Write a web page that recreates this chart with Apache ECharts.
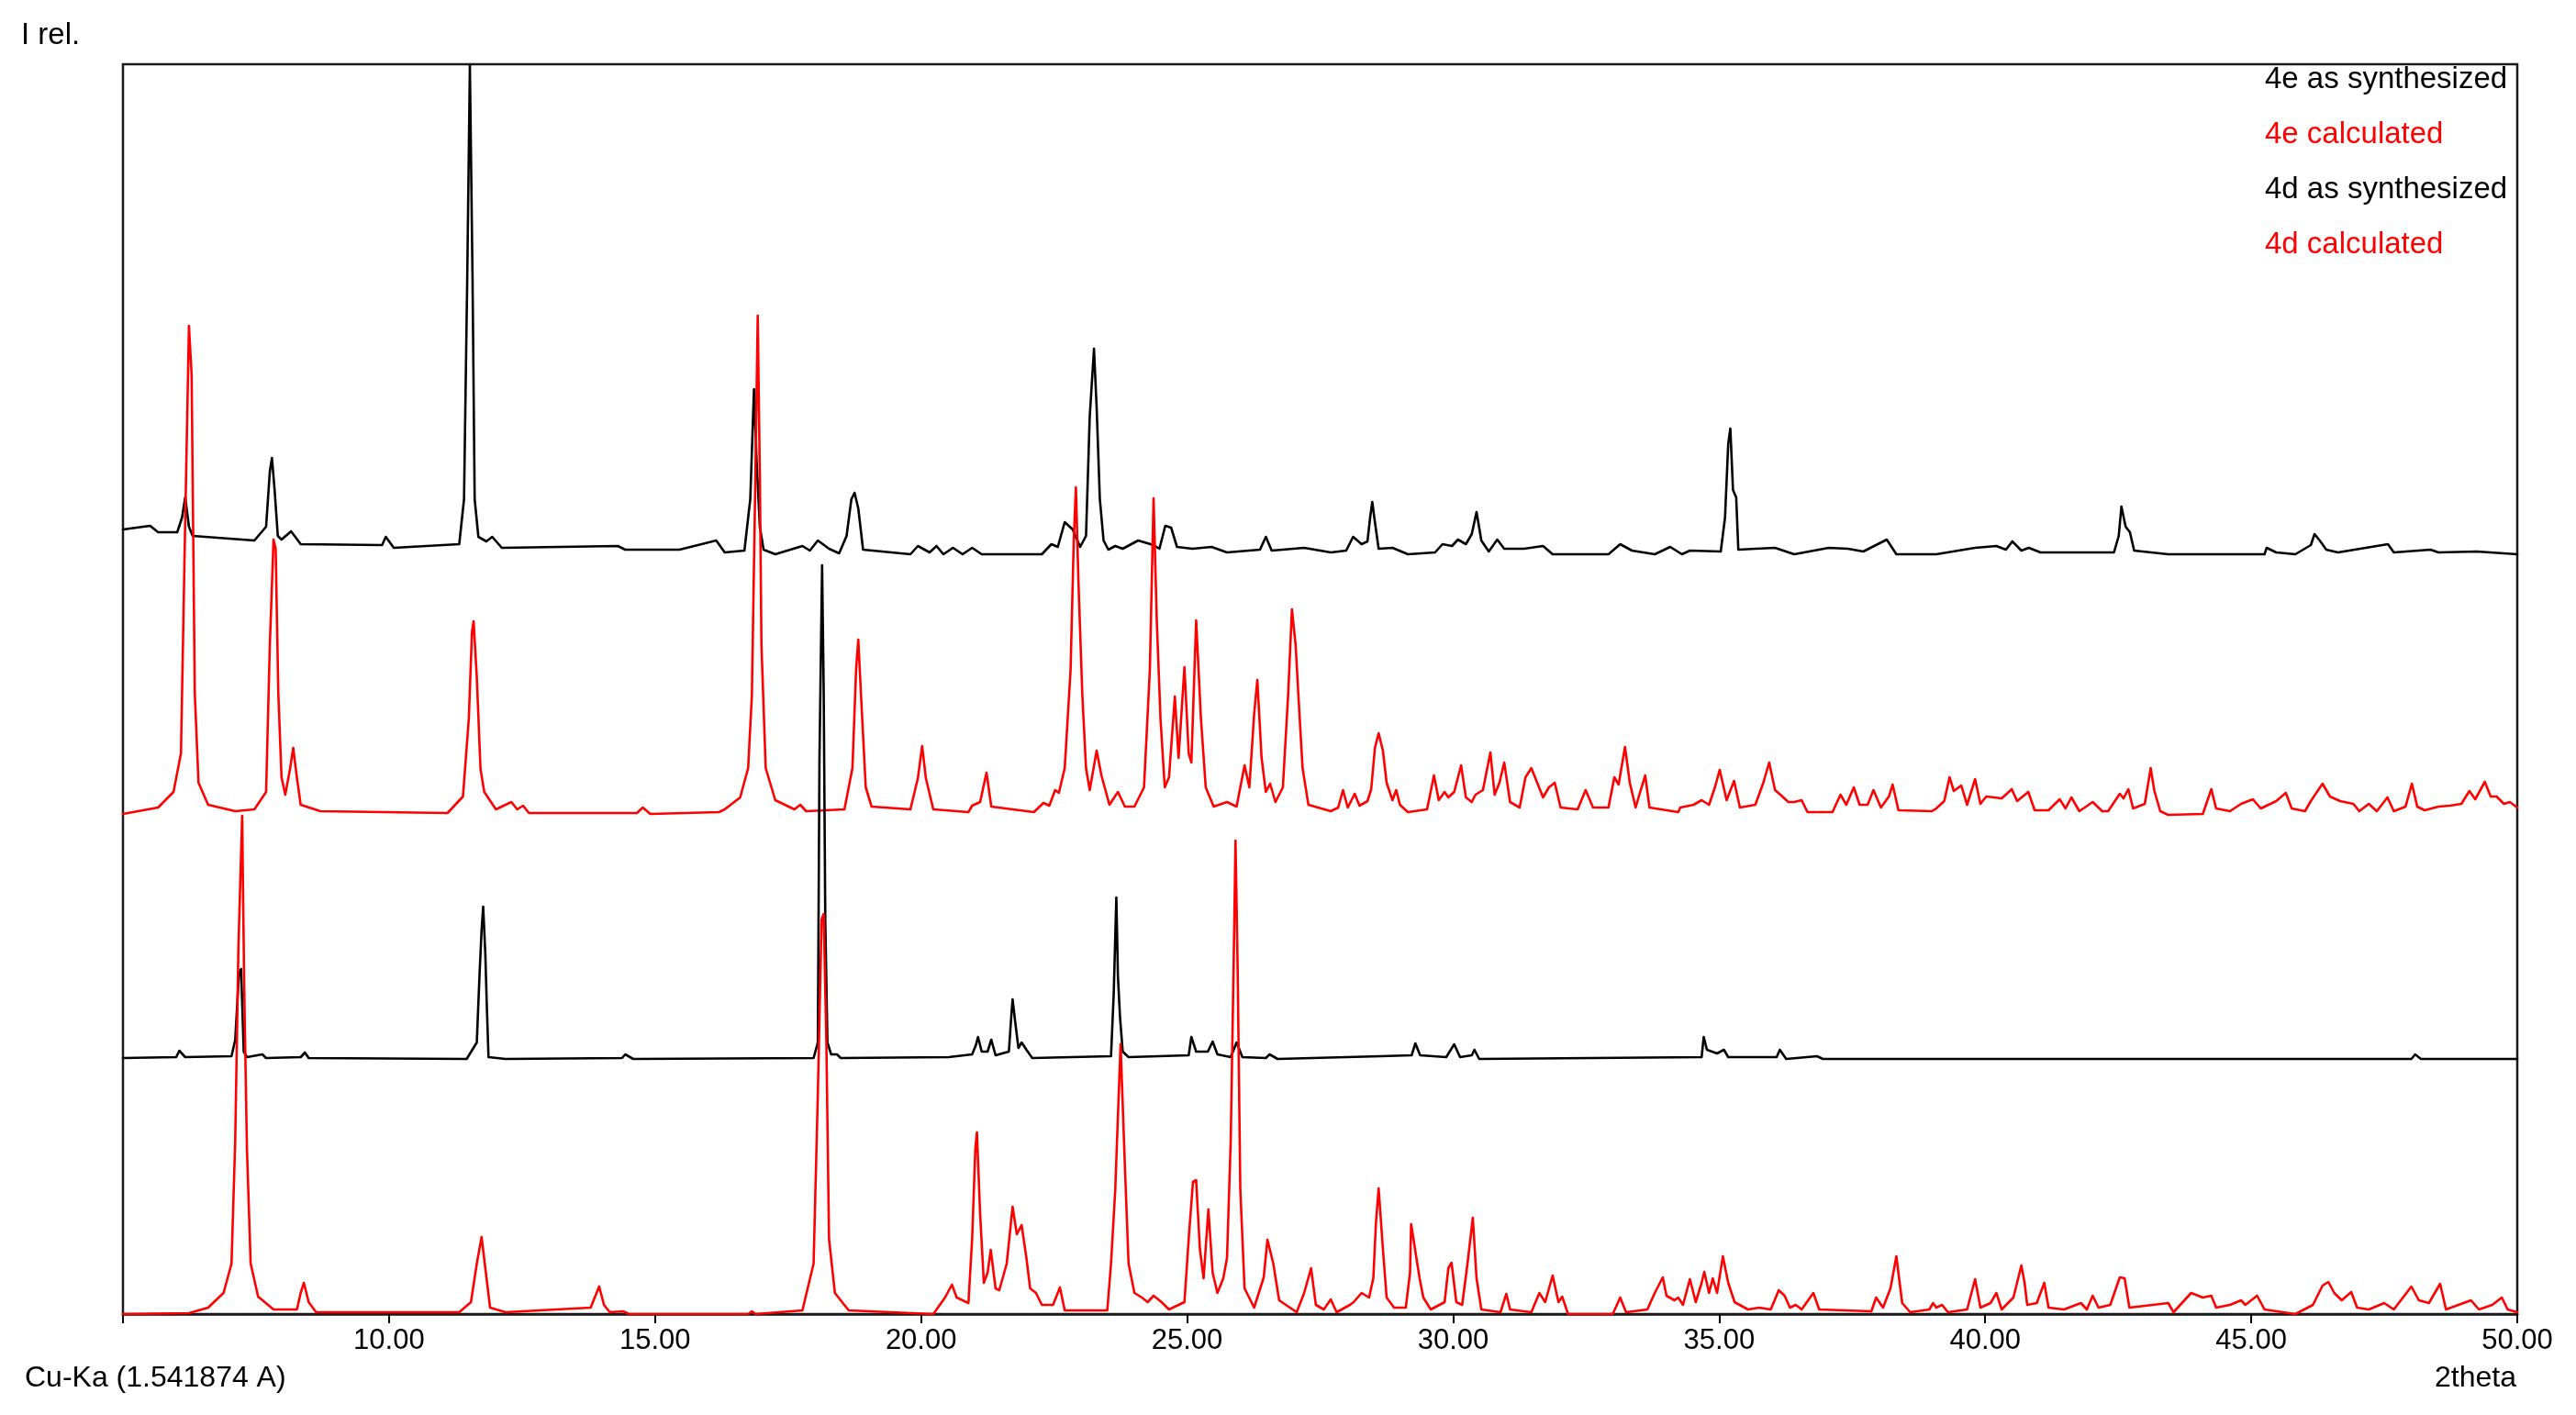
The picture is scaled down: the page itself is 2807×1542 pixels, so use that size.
<!DOCTYPE html>
<html><head><meta charset="utf-8">
<script src="https://cdn.jsdelivr.net/npm/echarts@6/dist/echarts.min.js"></script>
<style>html,body{margin:0;padding:0;background:#fff}#c{width:2807px;height:1542px}</style>
</head><body><div id="c"></div><script>
// ---- data (2theta, relative intensity above each trace's own baseline) ----
const seriesNames = ['4e as synthesized', '4e calculated', '4d as synthesized', '4d calculated'];
const xTickLabels = ['10.00', '15.00', '20.00', '25.00', '30.00', '35.00', '40.00', '45.00', '50.00'];

const synth4e = [[5.00,27],[5.51,31],[5.66,24],[6.02,24],[6.11,40],[6.17,62],[6.24,30],[6.31,20],[7.47,15],[7.69,30],[7.76,90],[7.80,105],[7.85,70],[7.91,20],[7.98,16],[8.16,25],[8.34,11],[9.87,10],[9.94,19],[10.09,7],[11.32,11],[11.41,60],[11.47,300],[11.52,533],[11.57,300],[11.61,60],[11.68,19],[11.83,14],[11.94,19],[12.12,7],[14.30,9],[14.44,5],[15.46,5],[16.15,15],[16.31,2],[16.68,4],[16.79,60],[16.86,180],[16.91,100],[16.97,30],[17.04,5],[17.26,0],[17.77,9],[17.91,4],[18.06,15],[18.27,6],[18.46,1],[18.60,20],[18.69,60],[18.75,67],[18.82,50],[18.91,5],[19.80,0],[19.94,9],[20.16,2],[20.29,9],[20.42,0],[20.60,7],[20.78,0],[20.96,7],[21.14,0],[22.27,0],[22.45,11],[22.57,8],[22.70,35],[22.85,27],[22.99,8],[23.10,20],[23.17,150],[23.25,224],[23.30,160],[23.36,60],[23.43,15],[23.52,5],[23.65,9],[23.79,6],[24.08,15],[24.37,10],[24.48,6],[24.59,31],[24.70,29],[24.81,8],[25.10,6],[25.46,8],[25.75,2],[26.37,5],[26.48,19],[26.59,4],[27.20,7],[27.70,2],[27.99,4],[28.12,19],[28.28,11],[28.39,14],[28.44,40],[28.48,57],[28.53,35],[28.60,6],[28.86,7],[29.15,0],[29.66,2],[29.80,11],[29.98,9],[30.09,16],[30.24,11],[30.35,22],[30.44,46],[30.53,15],[30.67,3],[30.83,16],[30.96,6],[31.33,6],[31.69,9],[31.87,0],[32.92,0],[33.14,11],[33.36,4],[33.79,0],[34.08,8],[34.30,0],[34.45,4],[35.03,3],[35.11,40],[35.17,120],[35.21,137],[35.26,70],[35.32,62],[35.36,5],[35.68,6],[36.05,7],[36.41,0],[37.06,7],[37.42,6],[37.71,3],[38.15,16],[38.33,0],[39.08,0],[39.81,7],[40.21,9],[40.39,5],[40.51,14],[40.68,4],[40.82,7],[41.04,2],[42.42,2],[42.51,20],[42.56,52],[42.64,30],[42.72,24],[42.80,4],[43.44,0],[45.25,0],[45.29,7],[45.47,2],[45.83,0],[46.12,10],[46.19,22],[46.30,14],[46.41,5],[46.63,2],[47.57,11],[47.68,2],[48.37,5],[48.52,2],[49.24,3],[50.00,0]];

const calc4e = [[5.00,1],[5.66,8],[5.95,25],[6.09,67],[6.16,290],[6.24,533],[6.29,480],[6.35,132],[6.42,35],[6.60,11],[7.11,4],[7.47,6],[7.69,25],[7.76,185],[7.83,300],[7.87,290],[7.92,132],[7.98,41],[8.05,22],[8.14,50],[8.20,73],[8.27,40],[8.34,11],[8.71,4],[11.10,2],[11.39,20],[11.50,105],[11.56,200],[11.59,211],[11.65,150],[11.72,50],[11.79,25],[12.01,6],[12.30,14],[12.41,6],[12.52,10],[12.63,2],[14.66,2],[14.77,8],[14.91,1],[16.20,3],[16.31,6],[16.60,19],[16.75,51],[16.82,130],[16.88,346],[16.93,544],[16.97,370],[17.00,185],[17.08,51],[17.26,16],[17.62,6],[17.73,11],[17.84,4],[18.56,6],[18.71,51],[18.78,160],[18.82,191],[18.87,132],[18.96,30],[19.07,9],[19.80,6],[19.94,40],[20.02,75],[20.09,40],[20.23,6],[20.89,3],[20.96,10],[21.11,14],[21.23,46],[21.32,9],[22.12,3],[22.30,13],[22.41,10],[22.52,27],[22.59,24],[22.70,51],[22.81,158],[22.87,300],[22.91,357],[22.96,250],[23.03,132],[23.10,51],[23.17,27],[23.30,70],[23.39,43],[23.54,11],[23.70,25],[23.83,9],[24.01,9],[24.19,30],[24.30,158],[24.37,345],[24.43,212],[24.50,105],[24.58,30],[24.66,41],[24.77,129],[24.84,62],[24.95,161],[25.03,67],[25.08,57],[25.17,212],[25.26,105],[25.35,30],[25.50,9],[25.75,14],[25.93,9],[26.08,54],[26.17,30],[26.26,110],[26.32,147],[26.40,62],[26.48,25],[26.56,34],[26.66,14],[26.80,30],[26.90,132],[26.97,224],[27.04,185],[27.09,132],[27.17,51],[27.28,11],[27.70,4],[27.84,8],[27.93,27],[28.02,8],[28.15,23],[28.24,10],[28.39,15],[28.46,28],[28.53,73],[28.60,89],[28.68,70],[28.75,35],[28.86,16],[28.93,27],[29.00,11],[29.15,3],[29.51,6],[29.64,43],[29.73,16],[29.84,25],[29.91,19],[30.02,25],[30.15,54],[30.24,19],[30.35,14],[30.42,22],[30.56,27],[30.70,68],[30.78,22],[30.87,35],[30.96,57],[31.07,14],[31.25,8],[31.36,41],[31.47,51],[31.58,35],[31.69,19],[31.80,30],[31.91,35],[32.02,8],[32.34,6],[32.49,27],[32.63,8],[32.92,8],[33.03,41],[33.11,33],[33.23,74],[33.32,35],[33.43,8],[33.50,22],[33.61,43],[33.69,8],[34.23,3],[34.27,8],[34.52,11],[34.67,16],[34.81,11],[34.92,30],[35.01,49],[35.14,16],[35.28,37],[35.39,8],[35.68,11],[35.83,35],[35.94,57],[36.05,27],[36.15,22],[36.30,14],[36.41,14],[36.55,16],[36.66,3],[37.13,3],[37.28,22],[37.39,11],[37.53,30],[37.64,11],[37.79,11],[37.90,27],[38.04,8],[38.19,20],[38.26,33],[38.37,5],[39.00,4],[39.08,7],[39.23,15],[39.33,41],[39.41,26],[39.55,32],[39.66,11],[39.81,39],[39.91,12],[40.02,20],[40.17,19],[40.31,18],[40.50,28],[40.60,15],[40.81,25],[40.93,5],[41.19,5],[41.40,17],[41.51,7],[41.62,19],[41.77,4],[42.02,14],[42.20,4],[42.31,4],[42.53,23],[42.60,18],[42.69,28],[42.78,7],[43.00,12],[43.11,51],[43.18,26],[43.29,4],[43.44,0],[44.09,1],[44.25,28],[44.34,7],[44.60,4],[44.81,12],[45.03,17],[45.18,7],[45.47,15],[45.65,24],[45.76,7],[46.01,4],[46.12,15],[46.34,34],[46.48,20],[46.67,15],[46.92,12],[47.03,4],[47.21,12],[47.36,4],[47.56,19],[47.68,4],[47.90,9],[48.02,34],[48.12,9],[48.26,5],[48.52,9],[48.73,10],[48.95,12],[49.10,26],[49.21,17],[49.39,36],[49.50,20],[49.61,20],[49.75,12],[49.86,14],[50.00,8]];

const synth4d = [[5.00,1],[6.00,2],[6.06,9],[6.17,2],[7.04,3],[7.11,21],[7.18,93],[7.22,98],[7.27,8],[7.33,2],[7.62,5],[7.69,1],[8.34,2],[8.42,7],[8.49,1],[11.46,0],[11.65,18],[11.70,90],[11.74,140],[11.77,166],[11.81,115],[11.84,55],[11.87,2],[12.19,0],[14.38,1],[14.44,5],[14.59,0],[17.98,1],[18.06,18],[18.09,325],[18.14,538],[18.17,400],[18.20,150],[18.24,18],[18.31,5],[18.42,5],[18.49,1],[20.52,2],[20.96,5],[21.03,15],[21.07,24],[21.14,8],[21.25,8],[21.32,21],[21.40,4],[21.65,8],[21.70,50],[21.72,65],[21.77,40],[21.83,12],[21.89,18],[21.98,10],[22.09,1],[23.57,3],[23.62,70],[23.67,176],[23.70,90],[23.74,45],[23.79,8],[23.90,2],[25.03,4],[25.08,24],[25.17,8],[25.39,8],[25.48,19],[25.57,5],[25.82,2],[25.93,18],[26.04,2],[26.48,1],[26.55,5],[26.70,0],[28.64,3],[29.22,4],[29.29,17],[29.38,4],[29.87,2],[30.02,16],[30.13,2],[30.35,4],[30.40,10],[30.49,0],[34.67,2],[34.71,24],[34.77,10],[34.96,6],[35.09,10],[35.17,2],[36.08,2],[36.14,10],[36.26,0],[36.84,3],[36.95,0],[48.01,0],[48.08,5],[48.19,0],[50.00,0]];

const calc4d = [[5.00,0],[6.24,1],[6.60,7],[6.89,23],[7.04,55],[7.11,190],[7.17,400],[7.24,543],[7.28,350],[7.33,180],[7.40,55],[7.54,19],[7.83,5],[8.27,5],[8.34,23],[8.40,34],[8.49,13],[8.63,2],[11.32,2],[11.54,13],[11.65,55],[11.74,84],[11.81,50],[11.90,7],[12.19,2],[13.79,7],[13.95,30],[14.04,10],[14.15,2],[14.40,3],[14.51,0],[16.75,0],[16.82,3],[16.89,0],[17.77,4],[17.98,55],[18.06,240],[18.13,430],[18.17,436],[18.22,296],[18.27,82],[18.38,23],[18.64,4],[20.23,0],[20.45,18],[20.58,32],[20.67,18],[20.89,12],[20.96,82],[21.02,180],[21.05,198],[21.11,109],[21.18,34],[21.25,45],[21.31,70],[21.40,28],[21.47,26],[21.61,55],[21.72,117],[21.80,87],[21.89,97],[21.98,61],[22.05,28],[22.16,23],[22.27,10],[22.48,10],[22.61,29],[22.70,4],[23.50,4],[23.57,55],[23.65,136],[23.70,216],[23.75,294],[23.83,162],[23.90,55],[24.01,23],[24.15,18],[24.26,13],[24.37,20],[24.52,13],[24.66,5],[24.95,13],[25.03,82],[25.11,144],[25.17,146],[25.24,71],[25.31,39],[25.40,114],[25.48,45],[25.57,23],[25.68,39],[25.75,61],[25.82,189],[25.88,400],[25.91,516],[25.95,377],[26.00,136],[26.08,28],[26.26,7],[26.44,40],[26.51,81],[26.62,55],[26.73,15],[27.06,2],[27.20,23],[27.33,50],[27.42,10],[27.57,5],[27.70,16],[27.81,2],[28.06,10],[28.13,13],[28.28,23],[28.42,18],[28.50,39],[28.55,100],[28.60,137],[28.68,71],[28.75,18],[28.89,7],[29.11,7],[29.19,45],[29.21,98],[29.26,80],[29.31,61],[29.37,39],[29.44,18],[29.58,5],[29.84,13],[29.91,50],[29.97,56],[30.06,13],[30.17,10],[30.27,55],[30.37,105],[30.44,39],[30.53,5],[30.89,2],[31.00,22],[31.07,5],[31.47,2],[31.62,23],[31.73,13],[31.87,42],[31.98,13],[32.05,19],[32.16,0],[33.00,0],[33.14,18],[33.25,2],[33.65,5],[33.79,23],[33.94,40],[34.01,20],[34.16,15],[34.23,18],[34.32,10],[34.45,38],[34.56,13],[34.67,34],[34.72,46],[34.81,23],[34.88,39],[34.96,23],[35.07,63],[35.17,34],[35.29,13],[35.54,5],[35.75,7],[35.97,5],[36.12,26],[36.23,20],[36.33,7],[36.44,10],[36.55,5],[36.77,23],[36.88,5],[37.86,3],[37.95,18],[38.08,7],[38.22,28],[38.33,63],[38.44,12],[38.59,2],[38.95,5],[39.02,12],[39.08,7],[39.19,10],[39.30,2],[39.66,5],[39.81,38],[39.91,7],[40.10,12],[40.21,23],[40.31,5],[40.53,18],[40.68,53],[40.74,34],[40.79,10],[40.97,12],[41.11,34],[41.19,7],[41.48,5],[41.80,12],[41.91,5],[42.02,20],[42.13,7],[42.35,10],[42.53,40],[42.62,39],[42.71,7],[43.44,12],[43.54,2],[43.87,23],[44.09,18],[44.25,20],[44.34,7],[44.60,10],[44.81,15],[44.89,10],[45.11,20],[45.25,5],[45.83,0],[46.16,10],[46.34,31],[46.45,35],[46.56,23],[46.70,15],[46.88,24],[46.99,7],[47.21,5],[47.50,12],[47.68,5],[48.01,30],[48.15,15],[48.34,12],[48.55,33],[48.66,5],[49.13,15],[49.28,5],[49.53,10],[49.71,18],[49.82,5],[50.00,2]];

const traces = [synth4e, calc4e, synth4d, calc4d];

// ---- presentation ----
const FONT = '"Liberation Sans", Arial, sans-serif';
const colors = ['#000000', '#ff0000', '#000000', '#ff0000'];
const offsets = [828, 544, 278, 0];   // vertical stacking of the traces

const chart = echarts.init(document.getElementById('c'));
chart.setOption({
  animation: false,
  backgroundColor: '#ffffff',
  textStyle: { fontFamily: FONT },
  grid: { left: 134, top: 70, width: 2609, height: 1362, show: true, borderColor: '#1a1a1a', borderWidth: 2.5, containLabel: false },
  xAxis: {
    type: 'value', min: 5, max: 50, interval: 5,
    axisLine: { show: true, lineStyle: { color: '#1a1a1a', width: 2.5 } },
    axisTick: { show: true, length: 10, lineStyle: { color: '#000', width: 2 } },
    splitLine: { show: false },
    axisLabel: {
      margin: 14, fontSize: 31, color: '#000', fontFamily: FONT,
      formatter: v => { const i = Math.round((v - 10) / 5); return (i >= 0 && i < xTickLabels.length) ? xTickLabels[i] : ''; }
    }
  },
  yAxis: { type: 'value', min: 0, max: 1362, show: false, splitLine: { show: false } },
  legend: {
    orient: 'vertical', left: 2463, top: 70, padding: 0,
    itemWidth: 0, itemHeight: 0, itemGap: 27, icon: 'rect', selectedMode: false,
    textStyle: { fontSize: 33, lineHeight: 33, fontFamily: FONT },
    data: seriesNames.map((n, i) => ({ name: n, textStyle: { color: colors[i] } }))
  },
  graphic: [
    { type: 'text', x: 23, y: 39, style: { text: 'I rel.', fill: '#000', font: '33px ' + FONT, textAlign: 'left', textVerticalAlign: 'middle' } },
    { type: 'text', x: 27, y: 1502, style: { text: 'Cu-Ka (1.541874 A)', fill: '#000', font: '32px ' + FONT, textAlign: 'left', textVerticalAlign: 'middle' } },
    { type: 'text', x: 2742, y: 1502, style: { text: '2theta', fill: '#000', font: '32px ' + FONT, textAlign: 'right', textVerticalAlign: 'middle' } }
  ],
  series: traces.map((d, i) => ({
    name: seriesNames[i], type: 'line', showSymbol: false, smooth: false,
    lineStyle: { color: colors[i], width: 2.6, join: 'round', cap: 'round' }, itemStyle: { color: colors[i] },
    data: d.map(p => [p[0], p[1] + offsets[i]])
  }))
});
</script></body></html>
